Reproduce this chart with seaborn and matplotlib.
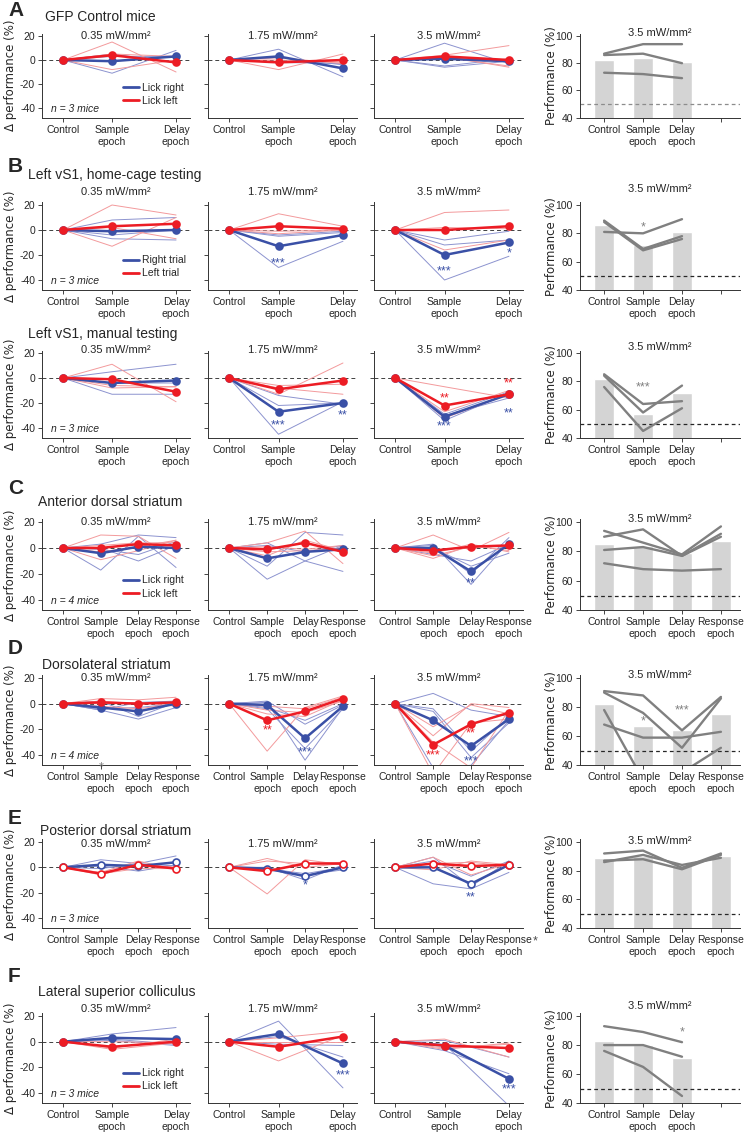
import matplotlib
matplotlib.use('Agg')
import matplotlib.pyplot as plt
from matplotlib import font_manager
from matplotlib.lines import Line2D
import seaborn as sns

# Values (delta performance in %, performance in %)
powers = ['0.35 mW/mm²', '1.75 mW/mm²', '3.5 mW/mm²']
bar_power = '3.5 mW/mm²'
cats3 = ['Control', 'Sample\nepoch', 'Delay\nepoch']
cats4 = ['Control', 'Sample\nepoch', 'Delay\nepoch', 'Response\nepoch']
x3 = [0, 1.3, 3]
x4 = [0, 1, 2, 3]

# A  GFP control mice
A_right = [[0, -1, 3], [0, 3, -7], [0, 1, -1]]
A_left = [[0, 4, -2], [0, -2, 0], [0, 3, 0]]
A_right_mice = [[[0, -11, 8], [0, 3, 3], [0, 5, -2]],
                [[0, 9, -14], [0, 2, -4], [0, -2, -3]],
                [[0, 14, -3], [0, -5, 1], [0, -6, -1]]]
A_left_mice = [[[0, 15, -10], [0, -8, 0], [0, 5, 3]],
               [[0, -8, 5], [0, 0, -2], [0, 2, -3]],
               [[0, 4, 12], [0, 3, -6], [0, 2, -5]]]
A_bars = [82, 84, 81]
A_bar_mice = [[87, 94, 94], [86, 87, 80], [73, 72, 69]]

# B  left vS1, home-cage testing
B_right = [[0, -1, 0], [0, -13, -4], [0, -20, -10]]
B_left = [[0, 3, 5], [0, 3, 1], [0, 0, 3]]
B_right_mice = [[[0, 8, 10], [0, -7, -8], [0, -4, 0]],
                [[0, -30, -9], [0, -5, -2], [0, -4, -1]],
                [[0, -40, -21], [0, -12, -8], [0, -8, -1]]]
B_left_mice = [[[0, 20, 12], [0, -13, 10], [0, 2, -7]],
               [[0, 13, 3], [0, -3, 0], [0, -1, 0]],
               [[0, 14, 16], [0, 2, 1], [0, -16, -8]]]
B_bars = [86, 72, 81]
B_bar_mice = [[89, 69, 78], [81, 80, 90], [88, 68, 76]]

# B  left vS1, manual testing
Bm_right = [[0, -4, -2], [0, -27, -20], [0, -31, -13]]
Bm_left = [[0, -1, -11], [0, -9, -2], [0, -22, -13]]
Bm_right_mice = [[[0, 5, 11], [0, -13, -13], [0, -4, -4]],
                 [[0, -45, -19], [0, -22, -20], [0, -14, -21]],
                 [[0, -34, -12], [0, -30, -16], [0, -29, -11]]]
Bm_left_mice = [[[0, 11, -19], [0, -6, -7], [0, -8, -7]],
                [[0, -13, 12], [0, -8, -13], [0, -6, -5]],
                [[0, -7, -16], [0, -27, -10], [0, -32, -13]]]
Bm_bars = [82, 57, 72]
Bm_bar_mice = [[85, 64, 66], [84, 58, 77], [76, 45, 61]]

# C  anterior dorsal striatum
C_right = [[0, -4, 1, 0], [0, -8, -3, -1], [0, 0, -18, 3]]
C_left = [[0, 0, 3, 2], [0, -1, 4, -3], [0, -2, 1, 2]]
C_right_mice = [[[0, -17, 9, -15], [0, 3, 10, 8], [0, -1, -5, 5], [0, 0, -10, 2]],
                [[0, -24, -10, -18], [0, -14, 12, 10], [0, 4, -10, 2], [0, 2, -3, 2]],
                [[0, 3, -28, 5], [0, -5, -10, 3], [0, 2, -20, 8], [0, 0, -14, -4]]]
C_left_mice = [[[0, 10, 9, -8], [0, -9, -2, 6], [0, 2, 4, 4], [0, -3, 1, 6]],
               [[0, 4, 13, -12], [0, -6, 6, -2], [0, -3, -2, 0], [0, 1, -1, 2]],
               [[0, 10, -2, 12], [0, -4, 3, -3], [0, -8, 2, -2], [0, -6, 1, 1]]]
C_bars = [85, 84, 79, 87]
C_bar_mice = [[94, 86, 78, 97], [90, 95, 77, 92], [81, 83, 77, 90], [72, 68, 67, 68]]

# D  dorsolateral striatum
D_right = [[0, -3, -6, 0], [0, -1, -27, -2], [0, -13, -33, -12]]
D_left = [[0, 1, 0, 1], [0, -13, -6, 4], [0, -32, -16, -7]]
D_right_mice = [[[0, -5, -12, -3], [0, 2, -10, 1], [0, -4, -3, 0], [0, -5, 1, 2]],
                [[0, 1, -44, -3], [0, -4, -35, -4], [0, 2, -16, -1], [0, -3, -13, 0]],
                [[0, 8, -5, -10], [0, -50, -48, -13], [0, -6, -42, -15], [0, -4, -37, -10]]]
D_left_mice = [[[0, 4, 3, 5], [0, -2, -4, 0], [0, 0, 1, -2], [0, 2, 0, 1]],
               [[0, -37, -3, 6], [0, -8, -10, 3], [0, -5, -7, 2], [0, -2, -4, 5]],
               [[0, -55, -15, -12], [0, -30, -50, -5], [0, -25, 0, -3], [0, -18, -1, -8]]]
D_bars = [82, 67, 64, 75]
D_bar_mice = [[91, 88, 64, 87], [90, 76, 52, 86], [68, 59, 59, 63], [78, 30, 35, 52]]

# E  posterior dorsal striatum
E_right = [[0, 2, 1, 4], [0, -1, -7, 0], [0, 0, -13, 2]]
E_left = [[0, -5, 2, -1], [0, -3, 3, 3], [0, 3, 1, 2]]
E_right_mice = [[[0, 6, 3, 9], [0, 1, -3, 2], [0, -1, 3, 1]],
                [[0, 0, -10, 2], [0, -2, -6, -2], [0, -1, -5, 0]],
                [[0, -13, -17, -4], [0, 8, -15, 5], [0, 5, -7, 5]]]
E_left_mice = [[[0, -4, 5, -2], [0, -6, 2, 0], [0, -5, -1, -1]],
               [[0, -21, 6, 2], [0, 7, 0, 3], [0, 5, 3, 4]],
               [[0, 8, -6, 3], [0, 3, 4, 1], [0, -2, 5, 2]]]
E_bars = [89, 90, 84, 90]
E_bar_mice = [[92, 94, 82, 92], [86, 91, 84, 89], [87, 88, 81, 91]]

# F  lateral superior colliculus
F_right = [[0, 3, 2], [0, 6, -17], [0, -3, -29]]
F_left = [[0, -4, 0], [0, -4, 4], [0, -3, -5]]
F_right_mice = [[[0, 6, 11], [0, 2, -2], [0, 1, -3]],
                [[0, 16, -36], [0, 4, -12], [0, -2, -3]],
                [[0, -2, -50], [0, -7, -25], [0, 1, -12]]]
F_left_mice = [[[0, -5, 2], [0, -6, -1], [0, 0, -1]],
               [[0, -15, 5], [0, 3, 8], [0, 0, 0]],
               [[0, 2, -12], [0, -5, -2], [0, -6, -1]]]
F_bars = [83, 80, 71]
F_bar_mice = [[93, 89, 82], [80, 80, 72], [76, 65, 45]]

# significance marks: (panel index, x category index, y, text, colour key); panel 3 = bar panel
B_stars = [(1, 1, -27, '***', 'b'), (2, 1, -33, '***', 'b'), (2, 2, -19, '*', 'b'), (3, 1, 84, '*', 'g')]
Bm_stars = [(1, 1, -38, '***', 'b'), (1, 2, -30, '**', 'b'), (2, 1, -16, '**', 'r'),
            (2, 2, -4, '**', 'r'), (2, 1, -39, '***', 'b'), (2, 2, -28, '**', 'b'), (3, 1, 76, '***', 'g')]
C_stars = [(2, 2, -27, '**', 'b')]
D_stars = [(0, 1, -50, '*', 'g'), (1, 1, -21, '**', 'r'), (1, 2, -38, '***', 'b'), (2, 1, -40, '***', 'r'),
           (2, 2, -23, '**', 'r'), (2, 2, -45, '***', 'b'), (3, 1, 70, '*', 'g'), (3, 2, 78, '***', 'g')]
E_stars = [(1, 2, -14, '*', 'b'), (2, 2, -24, '**', 'b')]
F_stars = [(1, 2, -26, '***', 'b'), (2, 2, -37, '***', 'b'), (3, 2, 89, '*', 'g')]

BLUE = '#3a50a6'
RED = '#ec1c24'
BLUE_L = '#8c93cf'
RED_L = '#f39a9c'
GRAY = '#808080'
star_col = {'b': BLUE, 'r': RED, 'g': GRAY}

sns.set_theme(style='ticks')
names = {f.name for f in font_manager.fontManager.ttflist}
fam = 'Liberation Sans Narrow' if 'Liberation Sans Narrow' in names else 'Liberation Sans'
plt.rcParams['font.family'] = [fam, 'DejaVu Sans']

W, H = 745, 1136
fig = plt.figure(figsize=(W / 100, H / 100), dpi=100)


def px_axes(x0, x1, ytop, ybot):
    return fig.add_axes([x0 / W, 1 - ybot / H, (x1 - x0) / W, (ybot - ytop) / H])


def ftext(x, y, s, **kw):
    fig.text(x / W, 1 - y / H, s, **kw)


def style(ax):
    sns.despine(ax=ax)
    for s in ['left', 'bottom']:
        ax.spines[s].set_linewidth(0.7)
        ax.spines[s].set_color('0.2')
    ax.tick_params(length=3, width=0.6, labelsize=7.5, pad=2, colors='0.15')


cols = [(42, 190), (208, 357), (374, 523)]
bar_col = (580, 740)

rows = [
    dict(letter='A', title='GFP Control mice', tx=45, ty=17, ly=11, y20=36, y40=108,
         right=A_right, left=A_left, rm=A_right_mice, lm=A_left_mice, bars=A_bars, bm=A_bar_mice,
         n=3, legend=('Lick right', 'Lick left'), stars=[], open=False, sub_dy=0, dash='0.55'),
    dict(letter='B', title='Left vS1, home-cage testing', tx=28, ty=175, ly=167, y20=205, y40=280,
         right=B_right, left=B_left, rm=B_right_mice, lm=B_left_mice, bars=B_bars, bm=B_bar_mice,
         n=3, legend=('Right trial', 'Left trial'), stars=B_stars, open=False, sub_dy=-13, dash='0.15'),
    dict(letter=None, title='Left vS1, manual testing', tx=28, ty=334, ly=None, y20=353, y40=428,
         right=Bm_right, left=Bm_left, rm=Bm_right_mice, lm=Bm_left_mice, bars=Bm_bars, bm=Bm_bar_mice,
         n=3, legend=None, stars=Bm_stars, open=False, sub_dy=-3, dash='0.15'),
    dict(letter='C', title='Anterior dorsal striatum', tx=38, ty=502, ly=488, y20=522, y40=600,
         right=C_right, left=C_left, rm=C_right_mice, lm=C_left_mice, bars=C_bars, bm=C_bar_mice,
         n=4, legend=('Lick right', 'Lick left'), stars=C_stars, open=False, sub_dy=0, dash='0.15'),
    dict(letter='D', title='Dorsolateral striatum', tx=42, ty=665, ly=649, y20=678, y40=755,
         right=D_right, left=D_left, rm=D_right_mice, lm=D_left_mice, bars=D_bars, bm=D_bar_mice,
         n=4, legend=None, stars=D_stars, open=False, sub_dy=0, dash='0.15'),
    dict(letter='E', title='Posterior dorsal striatum', tx=40, ty=831, ly=819, y20=842, y40=918,
         right=E_right, left=E_left, rm=E_right_mice, lm=E_left_mice, bars=E_bars, bm=E_bar_mice,
         n=3, legend=None, stars=E_stars, open=True, sub_dy=2, dash='0.15'),
    dict(letter='F', title='Lateral superior colliculus', tx=38, ty=992, ly=977, y20=1016, y40=1093,
         right=F_right, left=F_left, rm=F_right_mice, lm=F_left_mice, bars=F_bars, bm=F_bar_mice,
         n=3, legend=('Lick right', 'Lick left'), stars=F_stars, open=False, sub_dy=-7, dash='0.15'),
]

for r in rows:
    ncat = len(r['right'][0])
    xs = x3 if ncat == 3 else x4
    cats = cats3 if ncat == 3 else cats4
    k = (r['y40'] - r['y20']) / 60.0
    ytop, ybot = r['y20'] - 2 * k, r['y40'] + 8 * k
    if r['letter']:
        ftext(8, r['ly'], r['letter'], fontsize=15, fontweight='bold', va='center', ha='left',
              family='Liberation Sans')
    ftext(r['tx'], r['ty'], r['title'], fontsize=10, va='center', ha='left')

    axes = []
    for p, (x0, x1) in enumerate(cols):
        ax = px_axes(x0, x1, ytop, ybot)
        axes.append(ax)
        ax.axhline(0, ls=(0, (4, 3)), color='0.25', lw=0.7, zorder=1)
        for m in r['rm'][p]:
            sns.lineplot(x=xs, y=m, ax=ax, color=BLUE_L, lw=0.7, sort=False, legend=False)
        for m in r['lm'][p]:
            sns.lineplot(x=xs, y=m, ax=ax, color=RED_L, lw=0.7, sort=False, legend=False)
        for mean, c in [(r['right'][p], BLUE), (r['left'][p], RED)]:
            mfc = 'white' if r['open'] else c
            sns.lineplot(x=xs, y=mean, ax=ax, color=c, lw=1.8, sort=False, legend=False,
                         marker='o', markersize=5, markerfacecolor=mfc, markeredgecolor=c,
                         markeredgewidth=1.2, zorder=4)
        ax.set_xlim(-0.56, 3.37)
        ax.set_ylim(-48, 22)
        ax.set_xticks(xs)
        ax.set_xticklabels(cats, linespacing=1.25)
        ax.set_yticks([20, 0, -20, -40])
        style(ax)
        if p == 0:
            ax.set_yticklabels(['20', '0', '-20', '-40'])
            ax.set_ylabel('Δ performance (%)', fontsize=8.5, family=['DejaVu Sans'])
            ax.yaxis.set_label_coords(-0.17, 0.5)
            ax.text(0.06, 0.1, 'n = %d mice' % r['n'], transform=ax.transAxes, fontsize=7.5,
                    style='italic', va='center')
        else:
            ax.set_yticklabels([])
        ax.set_xlabel('')
        ftext((x0 + x1) / 2, r['y20'] + r['sub_dy'], powers[p], fontsize=8, ha='center', va='center')

    if r['legend']:
        hs = [Line2D([], [], color=BLUE, lw=2), Line2D([], [], color=RED, lw=2)]
        axes[0].legend(hs, r['legend'], loc='lower left', bbox_to_anchor=(0.5, 0.05), frameon=False,
                       fontsize=7.5, handlelength=1.5, handletextpad=0.3, labelspacing=0.3,
                       borderpad=0.2)

    # bar panel
    bax = px_axes(bar_col[0], bar_col[1], ytop, ybot)
    bx = list(range(ncat))
    sns.barplot(x=bx, y=r['bars'], ax=bax, color='#d4d4d4', width=0.5, saturation=1, zorder=1)
    bax.axhline(50, ls=(0, (3, 2.5)), color=r['dash'], lw=0.9, zorder=2)
    for m in r['bm']:
        sns.lineplot(x=bx, y=m, ax=bax, color=GRAY, lw=1.7, sort=False, legend=False, zorder=3)
    bax.set_xlim(-0.62, 3.49)
    bax.set_ylim(40, 100 + 2 * 60 / 68)
    bax.set_xticks(range(4))
    bax.set_xticklabels(cats4 if ncat == 4 else cats3 + [''], linespacing=1.25)
    bax.set_yticks([40, 60, 80, 100])
    bax.set_ylabel('Performance (%)', fontsize=8.5, family=['DejaVu Sans'])
    bax.yaxis.set_label_coords(-0.14, 0.5)
    bax.set_xlabel('')
    style(bax)
    ftext(sum(bar_col) / 2, r['y20'] + r['sub_dy'] - 3, bar_power, fontsize=8, ha='center', va='center')

    for (p, ci, y, s, ck) in r['stars']:
        if p == 3:
            bax.text(ci, y, s, color=star_col[ck], ha='center', va='center', fontsize=9)
        else:
            axes[p].text(xs[ci], y, s, color=star_col[ck], ha='center', va='center', fontsize=9,
                         clip_on=False)

    if r['letter'] == 'E':
        axes[2].text(3.62, -0.08, '*', transform=axes[2].get_xaxis_transform(), fontsize=9,
                     color='0.3', ha='left', va='top')

fig.savefig('out.png', dpi=100)
